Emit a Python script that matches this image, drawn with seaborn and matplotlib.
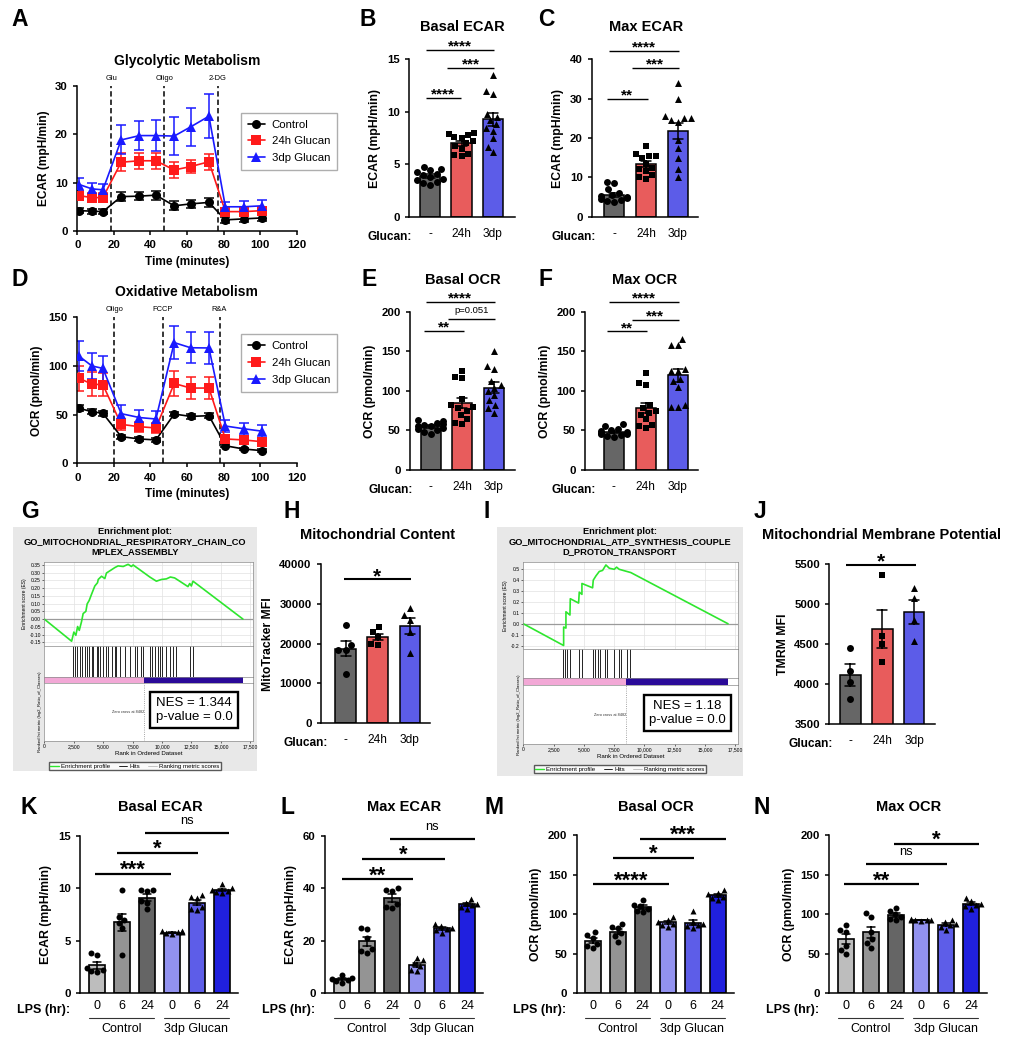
import numpy as np
import pandas as pd
import matplotlib
matplotlib.use("Agg")
import matplotlib.pyplot as plt
from matplotlib.lines import Line2D
import seaborn as sns

# ---------------- values ----------------
# A / D : seahorse time course (mean and SEM)
seahorse_time = [1, 8, 14, 24, 34, 43, 53, 62, 72, 81, 91, 101]
series_names = ['Control', '24h Glucan', '3dp Glucan']

ecar_control = [4.2, 4.1, 4.0, 7.1, 7.2, 7.4, 5.2, 5.6, 5.9, 2.3, 2.5, 2.7]
ecar_control_sem = [0.5, 0.5, 0.5, 0.9, 0.9, 0.9, 0.9, 0.9, 1.0, 0.6, 0.6, 0.6]
ecar_24h = [7.3, 6.9, 6.9, 14.2, 14.5, 14.5, 12.6, 13.3, 14.3, 4.0, 4.0, 4.2]
ecar_24h_sem = [1.0, 0.9, 0.9, 1.9, 1.6, 1.6, 1.6, 1.4, 1.7, 0.8, 0.8, 0.8]
ecar_3dp = [9.6, 8.7, 8.5, 18.8, 19.7, 19.7, 19.6, 21.5, 23.7, 5.0, 5.0, 5.2]
ecar_3dp_sem = [1.4, 1.2, 1.2, 3.0, 3.0, 3.2, 3.9, 3.9, 4.5, 1.0, 1.2, 1.2]
ecar_inject_time = [18.5, 47.5, 77]
ecar_inject_label = ['Glu', 'Oligo', '2-DG']

ocr_control = [56.5, 53, 51.3, 27.4, 25, 24, 50.6, 48.2, 48.9, 18, 14.7, 13]
ocr_control_sem = [3, 2.5, 2.5, 2, 2, 2, 2.5, 2.5, 2.5, 1.5, 1.5, 1.5]
ocr_24h = [87.3, 81.4, 80.7, 40, 37.6, 36.3, 82, 77.3, 77.3, 25, 24, 22.2]
ocr_24h_sem = [13, 12, 12, 6, 5, 5, 13, 11, 11, 3, 3, 3]
ocr_3dp = [110, 100, 97.5, 51, 47, 45.5, 124, 118.7, 118.5, 38.3, 35.5, 33]
ocr_3dp_sem = [15.5, 13, 13, 9, 8, 8, 17, 16, 16, 6, 6, 6]
ocr_inject_time = [20.2, 46.7, 77.8]
ocr_inject_label = ['Oligo', 'FCCP', 'R&A']

# B, C, E, F : per-well values (Control, 24h, 3dp)
glucan_groups = ['-', '24h', '3dp']
basal_ecar = [[4.8, 4.6, 4.5, 4.3, 4.1, 4.0, 3.8, 3.6, 3.5, 3.3, 3.2, 3.0],
              [8.0, 7.9, 7.8, 7.6, 7.5, 7.2, 7.0, 6.8, 6.5, 6.0, 5.9, 5.8],
              [13.5, 12.0, 11.7, 9.8, 9.5, 9.2, 8.8, 8.5, 8.2, 7.5, 6.7, 6.2]]
max_ecar = [[8.8, 8.5, 7.0, 6.0, 5.5, 5.2, 5.0, 4.8, 4.5, 4.2, 4.0, 3.8],
            [18.0, 16.0, 15.5, 15.5, 15.0, 13.5, 12.5, 12.0, 11.5, 10.5, 10.0, 9.5],
            [34.0, 30.0, 25.5, 25.0, 25.0, 24.5, 24.0, 19.5, 17.5, 15.0, 12.0, 10.0]]
basal_ocr = [[63, 62, 60, 58, 57, 56, 55, 53, 52, 50, 48, 46],
             [125, 118, 116, 90, 82, 80, 78, 75, 70, 65, 60, 58],
             [150, 132, 128, 112, 108, 104, 100, 95, 88, 82, 78, 72]]
max_ocr = [[58, 55, 52, 50, 49, 48, 47, 46, 45, 44, 43, 42],
           [122, 110, 107, 82, 78, 74, 72, 70, 64, 57, 55, 53],
           [165, 158, 158, 128, 125, 125, 115, 112, 105, 82, 80, 80]]

# H, J
mito_content = [[24700, 19700, 18500, 18500, 12300],
                [24100, 23000, 21700, 20000, 19600],
                [28900, 27200, 26000, 23000, 17600]]
tmrm_mfi = [[4450, 4170, 4020, 3810],
            [5370, 4600, 4500, 4280],
            [5200, 5080, 4800, 4540]]

# K-N : LPS time (0, 6, 24 h) for Control then 3dp Glucan
lps_groups = ['Control 0', 'Control 6', 'Control 24', 'Glucan 0', 'Glucan 6', 'Glucan 24']
lps_ticklabels = ['0', '6', '24', '0', '6', '24']
lps_basal_ecar = [[3.8, 3.6, 2.4, 2.2, 2.1, 2.0], [9.8, 7.3, 7.0, 6.7, 6.2, 3.6],
                  [9.8, 9.8, 9.7, 8.8, 8.6, 8.0], [5.9, 5.9, 5.8, 5.8, 5.7, 5.6],
                  [9.4, 9.2, 9.1, 8.2, 8.0, 7.9], [10.4, 10.0, 9.8, 9.7, 9.6, 9.5]]
lps_max_ecar = [[6.8, 6.0, 5.5, 5.0, 4.5, 4.0], [25.0, 24.5, 21.0, 17.0, 16.0, 15.5],
                [40.0, 39.5, 39.0, 34.0, 33.0, 32.5], [13.5, 12.5, 11.5, 10.5, 9.0, 8.5],
                [26.5, 25.5, 25.0, 24.5, 24.0, 23.0], [36.0, 34.5, 34.0, 33.5, 33.0, 32.0]]
lps_basal_ocr = [[77, 74, 70, 62, 60, 57], [88, 84, 83, 76, 72, 65],
                 [118, 112, 110, 107, 104, 103], [97, 93, 90, 88, 86, 84],
                 [104, 90, 88, 86, 85, 82], [130, 127, 125, 122, 121, 118]]
lps_max_ocr = [[86, 80, 78, 60, 55, 50], [101, 96, 77, 68, 63, 57],
               [108, 104, 100, 97, 94, 92], [94, 93, 93, 92, 92, 91],
               [93, 90, 87, 86, 84, 80], [121, 116, 113, 111, 110, 107]]

# G, I : GSEA running enrichment score and hit ranks
g_title = 'Enrichment plot:\nGO_MITOCHONDRIAL_RESPIRATORY_CHAIN_CO\nMPLEX_ASSEMBLY'
g_rank = [0, 2320, 2510, 2680, 2830, 2970, 3160, 3300, 3530, 3640, 3810, 4010, 4290,
          4520, 4580, 4860, 5140, 5280, 5710, 5990, 6270, 6700, 7120, 7400, 7540, 8110,
          8960, 9520, 9940, 10370, 10710, 11070, 11500, 12200, 12350, 12490, 12630, 16870]
g_es = [0.0, -0.143, -0.084, -0.105, -0.048, -0.073, -0.017, 0.036, 0.05, 0.098, 0.12,
        0.16, 0.214, 0.235, 0.256, 0.277, 0.262, 0.298, 0.319, 0.333, 0.344, 0.34, 0.354,
        0.34, 0.35, 0.319, 0.272, 0.245, 0.256, 0.26, 0.272, 0.266, 0.245, 0.21, 0.23,
        0.214, 0.245, 0.0]
g_hits = [2400, 2600, 2800, 3020, 3220, 3450, 3640, 3810, 4010, 4150, 4435, 4575, 4720,
          5000, 5225, 5425, 5710, 5990, 6130, 6470, 6840, 7260, 7685, 7880, 8250, 8390,
          9010, 9180, 9380, 9660, 9800, 10030, 10370, 10650, 10930, 11215, 12345, 12630]
g_nes = 'NES = 1.344\np-value = 0.0'

i_title = 'Enrichment plot:\nGO_MITOCHONDRIAL_ATP_SYNTHESIS_COUPLE\nD_PROTON_TRANSPORT'
i_rank = [0, 3330, 3330, 3520, 3520, 3850, 3880, 4565, 4620, 4840, 4840, 5720, 5775,
          6000, 6270, 6545, 6820, 7100, 7510, 7700, 7920, 8880, 16900]
i_es = [0.0, -0.20, -0.03, -0.04, 0.11, 0.08, 0.23, 0.19, 0.29, 0.27, 0.37, 0.33, 0.40,
        0.44, 0.48, 0.49, 0.54, 0.51, 0.50, 0.52, 0.50, 0.47, 0.0]
i_hits = [3250, 3440, 3600, 3880, 4620, 4810, 5720, 5910, 6130, 6350, 6740, 6880, 7510,
          7870, 8090, 8550, 8830]
i_nes = 'NES = 1.18\np-value = 0.0'
zero_cross = 8482
ranked_list_end = 16900

# ---------------- style ----------------
sns.set_style('ticks')
plt.rcParams['font.family'] = ['Liberation Sans', 'DejaVu Sans']
plt.rcParams.update({
    'axes.edgecolor': 'black', 'axes.labelcolor': 'black', 'text.color': 'black',
    'xtick.color': 'black', 'ytick.color': 'black', 'axes.linewidth': 1.1,
    'xtick.major.width': 1.1, 'ytick.major.width': 1.1,
    'xtick.major.size': 3.2, 'ytick.major.size': 3.2,
})

series_colors = ['black', '#ff1a1a', '#1a1aff']
series_markers = ['o', 's', '^']
glucan_colors = ['#666666', '#ff4545', '#4545ff']
glucan_markers = ['o', 's', '^']
lps_colors = ['#bdbdbd', '#949494', '#656565', '#8282ff', '#4646ff', '#0000ff']
lps_markers = ['o', 'o', 'o', '^', '^', '^']
gsea_green = '#2ee62e'

W, H = 1014, 1050
fig = plt.figure(figsize=(W / 100, H / 100), dpi=100)


def px_ax(x0, y0, x1, y1):
    return fig.add_axes([x0 / W, 1 - y1 / H, (x1 - x0) / W, (y1 - y0) / H])


def fig_text(x, y, s, **kw):
    fig.text(x / W, 1 - y / H, s, **kw)


def bold_yticks(ax, size=8.2):
    ax.tick_params(axis='y', labelsize=size)
    plt.setp(ax.get_yticklabels(), fontweight='bold')


def seahorse_panel(box, means, sems, inj_t, inj_lab, ylim, yticks, ylabel, legend_top):
    ax = px_ax(*box)
    df = pd.DataFrame({'time': seahorse_time * 3, 'val': sum(means, []),
                       'grp': np.repeat(series_names, len(seahorse_time))})
    sns.lineplot(data=df, x='time', y='val', hue='grp', style='grp',
                 hue_order=series_names, style_order=series_names,
                 palette=dict(zip(series_names, series_colors)),
                 markers=dict(zip(series_names, series_markers)), dashes=False,
                 markersize=6.5, markeredgewidth=0, linewidth=1.2, errorbar=None,
                 legend=False, ax=ax, zorder=3)
    for m, s, c in zip(means, sems, series_colors):
        ax.errorbar(seahorse_time, m, yerr=s, fmt='none', ecolor=c, elinewidth=1.1,
                    capsize=3.6, capthick=1.1, zorder=2)
    for t, lab in zip(inj_t, inj_lab):
        ax.axvline(t, color='black', ls=(0, (3.5, 2)), lw=1.1, zorder=1)
        ax.annotate(lab, xy=(t, 1), xycoords=('data', 'axes fraction'), xytext=(0, 3),
                    textcoords='offset points', ha='center', va='bottom', fontsize=5.4)
    ax.set_xlim(0, 120)
    ax.set_xticks(range(0, 121, 20))
    ax.set_ylim(ylim)
    ax.set_yticks(yticks)
    ax.tick_params(axis='x', labelsize=8.2)
    plt.setp(ax.get_xticklabels(), fontweight='bold')
    bold_yticks(ax)
    ax.set_xlabel('Time (minutes)', fontsize=8.6, fontweight='bold')
    ax.set_ylabel(ylabel, fontsize=8.6, fontweight='bold')
    sns.despine(ax=ax)
    handles = [Line2D([0], [0], color=c, marker=mk, markersize=6.5, lw=1.2, mew=0)
               for c, mk in zip(series_colors, series_markers)]
    ax.legend(handles, series_names, loc='upper left',
              bbox_to_anchor=(241 / W, 1 - legend_top / H), bbox_transform=fig.transFigure,
              borderaxespad=0, fancybox=False, edgecolor='#9a9a9a', fontsize=8.2,
              handlelength=1.5, handletextpad=0.6, borderpad=0.6, labelspacing=0.6)
    return ax


def bar_panel(box, groups, colors, markers, values, xlim, ylim, yticks, ylabel,
              ticklabels, tick_fs, tick_pad, dot_size, bar_lw, xlabel_name, xlabel_dx):
    ax = px_ax(*box)
    df = pd.DataFrame({'grp': np.repeat(groups, [len(v) for v in values]),
                       'val': np.concatenate(values)})
    sns.barplot(data=df, x='grp', y='val', hue='grp', order=groups, hue_order=groups,
                palette=dict(zip(groups, colors)), errorbar='se', capsize=0.32,
                width=0.64, edgecolor='black', linewidth=bar_lw,
                err_kws={'color': 'black', 'linewidth': 1.1}, legend=False, ax=ax)
    for g, mk in zip(groups, markers):
        sns.swarmplot(data=df[df['grp'] == g], x='grp', y='val', order=groups, marker=mk,
                      color='black', size=dot_size, linewidth=0, warn_thresh=1,
                      zorder=3, ax=ax)
    ax.set_xlim(xlim)
    ax.set_ylim(ylim)
    ax.set_yticks(yticks)
    ax.set_xticks(range(len(groups)), ticklabels, fontweight='normal')
    ax.tick_params(axis='x', length=0, pad=tick_pad, labelsize=tick_fs)
    bold_yticks(ax)
    ax.set_xlabel('')
    ax.set_ylabel(ylabel, fontsize=8.8, fontweight='bold')
    sns.despine(ax=ax)
    # row label written left of the first bar, level with the tick labels
    ax.annotate(xlabel_name, xy=(-0.32, 0), xycoords=('data', 'axes fraction'),
                xytext=(xlabel_dx, -(tick_pad + tick_fs * 0.75)), textcoords='offset points',
                ha='right', va='center', fontsize=tick_fs, fontweight='bold',
                annotation_clip=False)
    return ax


def add_sigs(ax, sigs, star_fs, lw, star_dy, text_fs, text_dy):
    for x0, x1, y, label in sigs:
        ax.plot([x0, x1], [y, y], color='black', lw=lw, clip_on=False,
                solid_capstyle='butt')
        if '*' in label:
            ax.annotate(label, xy=((x0 + x1) / 2, y), xytext=(0, star_dy),
                        textcoords='offset points', ha='center', va='baseline',
                        fontsize=star_fs, fontweight='bold', annotation_clip=False)
        else:
            ax.annotate(label, xy=((x0 + x1) / 2, y), xytext=(0, text_dy),
                        textcoords='offset points', ha='center', va='baseline',
                        fontsize=text_fs, annotation_clip=False)


def lps_groups_row(ax):
    h_px = ax.get_position().height * H
    for lo, hi, name in [(-0.32, 2.28, 'Control'), (2.68, 5.28, '3dp Glucan')]:
        ax.plot([lo, hi], [-25 / h_px] * 2, color='#333333', lw=0.8, clip_on=False,
                transform=ax.get_xaxis_transform())
        ax.text((lo + hi) / 2, -36 / h_px, name, ha='center', va='center', fontsize=9,
                transform=ax.get_xaxis_transform())


def gsea_panel(bg, ax_x, ax_y, title, ranks, es, hits, es_ticks, es_fmt, es_ylim,
               nes, nes_xy, legend_y):
    x0, y0, x1, y1 = bg
    back = px_ax(x0, y0, x1, y1)
    back.set_facecolor('#e8e8e8')
    back.set_xticks([])
    back.set_yticks([])
    for s in back.spines.values():
        s.set_visible(False)
    fig_text((x0 + x1) / 2, y0 + 0.5, title, ha='center', va='top', fontsize=6.7,
             fontweight='bold', linespacing=1.12)
    left, right = ax_x
    t_es, b_es, b_hits, b_bar, b_low = ax_y
    xmax = 17750
    xt = list(range(0, 17501, 2500))

    es_ax = px_ax(left, t_es, right, b_es)
    es_ax.grid(True, color='#e2e2e2', lw=0.5)
    es_ax.axhline(0, color='#9a9a9a', lw=0.9)
    sns.lineplot(x=ranks, y=es, sort=False, estimator=None, color=gsea_green,
                 linewidth=1.2, ax=es_ax)
    es_ax.set_xlim(0, xmax)
    es_ax.set_ylim(es_ylim)
    es_ax.set_xticks(xt, [''] * len(xt))
    es_ax.set_yticks(es_ticks, [es_fmt % t for t in es_ticks])
    es_ax.tick_params(axis='x', length=0)
    es_ax.tick_params(axis='y', length=1.5, width=0.4, pad=1, labelsize=3.6)
    es_ax.set_ylabel('Enrichment score (ES)', fontsize=3.6, labelpad=2)

    hits_ax = px_ax(left, b_es, right, b_hits)
    sns.rugplot(x=hits, height=1, color='black', linewidth=0.6, expand_margins=False,
                ax=hits_ax)
    hits_ax.set_xlim(0, xmax)
    hits_ax.set_xticks([])
    hits_ax.set_yticks([])

    bar_ax = px_ax(left, b_hits, right, b_bar)
    bar_ax.axvspan(0, zero_cross, color='#f2a8d6', lw=0)
    bar_ax.axvspan(zero_cross, ranked_list_end, color='#2a0a98', lw=0)
    bar_ax.set_xlim(0, xmax)
    bar_ax.set_xticks([])
    bar_ax.set_yticks([])

    low_ax = px_ax(left, b_bar, right, b_low)
    low_ax.axvline(zero_cross, color='#888888', ls=':', lw=0.6)
    low_ax.text(zero_cross, 0.5, 'Zero cross at 8482', fontsize=2.8, ha='right',
                va='center', color='#333333', transform=low_ax.get_xaxis_transform())
    low_ax.set_xlim(0, xmax)
    low_ax.set_xticks(xt, [f'{t:,}' for t in xt])
    low_ax.set_yticks([])
    low_ax.tick_params(axis='x', length=1.5, width=0.4, pad=1, labelsize=3.6)
    low_ax.set_xlabel('Rank in Ordered Dataset', fontsize=4.4, labelpad=1)
    low_ax.set_ylabel('Ranked list metric (log2_Ratio_of_Classes)', fontsize=3.1,
                      labelpad=2)

    for a in (es_ax, hits_ax, bar_ax, low_ax):
        for s in a.spines.values():
            s.set_linewidth(0.5)
            s.set_color('#8a8a8a')

    fig_text(nes_xy[0], nes_xy[1], nes, ha='center', va='center', fontsize=9.5,
             linespacing=1.25,
             bbox=dict(boxstyle='square,pad=0.4', fc='white', ec='black', lw=1.7))
    handles = [Line2D([], [], color=gsea_green, lw=1), Line2D([], [], color='black', lw=0.6),
               Line2D([], [], color='#bbbbbb', lw=0.6)]
    fig.legend(handles, ['Enrichment profile', 'Hits', 'Ranking metric scores'],
               loc='center', bbox_to_anchor=((x0 + x1) / 2 / W, 1 - legend_y / H),
               ncol=3, fontsize=4.4, frameon=True, fancybox=False, edgecolor='#333333',
               handlelength=1.4, handletextpad=0.4, columnspacing=1.3, borderpad=0.3)


# ---------------- panels ----------------
seahorse_panel((77.3, 85.7, 296.7, 231), [ecar_control, ecar_24h, ecar_3dp],
               [ecar_control_sem, ecar_24h_sem, ecar_3dp_sem],
               ecar_inject_time, ecar_inject_label, (0, 30), [0, 10, 20, 30],
               'ECAR (mpH/min)', 112.7)
seahorse_panel((77.3, 317.3, 296.7, 463.3), [ocr_control, ocr_24h, ocr_3dp],
               [ocr_control_sem, ocr_24h_sem, ocr_3dp_sem],
               ocr_inject_time, ocr_inject_label, (0, 150), [0, 50, 100, 150],
               'OCR (pmol/min)', 334.3)
fig_text(186.7, 61, 'Glycolytic Metabolism', ha='center', va='center', fontsize=10,
         fontweight='bold')
fig_text(186.7, 292.3, 'Oxidative Metabolism', ha='center', va='center', fontsize=10,
         fontweight='bold')

glucan_kw = dict(groups=glucan_groups, colors=glucan_colors, markers=glucan_markers,
                 ticklabels=glucan_groups, tick_fs=8.6, tick_pad=8.2, dot_size=5,
                 bar_lw=1.1, xlabel_name='Glucan:', xlabel_dx=-5.5)
ax_b = bar_panel((409, 59.3, 515, 217), values=basal_ecar, xlim=(-0.67, 2.7), ylim=(0, 15),
                 yticks=[0, 5, 10, 15], ylabel='ECAR (mpH/min)', **glucan_kw)
ax_c = bar_panel((592, 59.3, 698, 216.7), values=max_ecar, xlim=(-0.69, 2.63),
                 ylim=(0, 40), yticks=[0, 10, 20, 30, 40], ylabel='ECAR (mpH/min)',
                 **glucan_kw)
ax_e = bar_panel((410, 311.7, 515, 470), values=basal_ocr, xlim=(-0.66, 2.68),
                 ylim=(0, 200), yticks=[0, 50, 100, 150, 200], ylabel='OCR (pmol/min)',
                 **glucan_kw)
ax_f = bar_panel((585, 311.7, 698, 470), values=max_ocr, xlim=(-0.9, 2.63),
                 ylim=(0, 200), yticks=[0, 50, 100, 150, 200], ylabel='OCR (pmol/min)',
                 **glucan_kw)
ax_h = bar_panel((321, 564.3, 430, 723), values=mito_content, xlim=(-0.77, 2.63),
                 ylim=(0, 40000), yticks=[0, 10000, 20000, 30000, 40000],
                 ylabel='MitoTracker MFI', **glucan_kw)
ax_j = bar_panel((829.3, 564.3, 935, 724), values=tmrm_mfi, xlim=(-0.66, 2.65),
                 ylim=(3500, 5500), yticks=[3500, 4000, 4500, 5000, 5500],
                 ylabel='TMRM MFI', **glucan_kw)

add_sigs(ax_b, [(-0.14, 2.04, 15.9, '****'), (0.54, 2.04, 14.2, '***'),
                (-0.14, 0.98, 11.3, '****')], 11, 1.0, -0.5, 7, 4.5)
add_sigs(ax_c, [(-0.16, 2.03, 42.2, '****'), (0.56, 2.03, 37.8, '***'),
                (-0.22, 1.05, 29.9, '**')], 11, 1.0, -0.5, 7, 4.5)
add_sigs(ax_e, [(-0.16, 2.04, 212, '****'), (0.55, 2.04, 191, 'p=0.051'),
                (-0.21, 1.07, 176, '**')], 11, 1.0, -0.5, 6.8, 4.2)
add_sigs(ax_f, [(-0.16, 2.03, 212, '****'), (0.56, 2.03, 190, '***'),
                (-0.22, 1.05, 175, '**')], 11, 1.0, -0.5, 7, 4.5)
add_sigs(ax_h, [(-0.05, 2.03, 36200, '*')], 15, 1.5, -2, 9, 5)
add_sigs(ax_j, [(-0.14, 2.05, 5490, '*')], 15, 1.5, -2, 9, 5)

fig_text(462, 27, 'Basal ECAR', ha='center', va='center', fontsize=10.5, fontweight='bold')
fig_text(646, 27, 'Max ECAR', ha='center', va='center', fontsize=10.5, fontweight='bold')
fig_text(463, 280, 'Basal OCR', ha='center', va='center', fontsize=10.5, fontweight='bold')
fig_text(645, 280, 'Max OCR', ha='center', va='center', fontsize=10.5, fontweight='bold')
fig_text(378, 535, 'Mitochondrial Content', ha='center', va='center', fontsize=10.5,
         fontweight='bold')
fig_text(881.7, 535, 'Mitochondrial Membrane Potential', ha='center', va='center',
         fontsize=10.5, fontweight='bold')

gsea_panel((13, 527, 257, 771), (44.3, 253.3), (561.7, 645.7, 676.5, 683, 741),
           g_title, g_rank, g_es, g_hits,
           [-0.15, -0.10, -0.05, 0.0, 0.05, 0.10, 0.15, 0.20, 0.25, 0.30, 0.35], '%.2f',
           (-0.172, 0.371), g_nes, (194, 710), 766)
gsea_panel((497, 527, 743, 776), (523.3, 738.3), (561.7, 649, 678.3, 685, 744),
           i_title, i_rank, i_es, i_hits,
           [-0.2, -0.1, 0.0, 0.1, 0.2, 0.3, 0.4, 0.5], '%.1f',
           (-0.232, 0.57), i_nes, (687.5, 713), 769)

lps_kw = dict(groups=lps_groups, colors=lps_colors, markers=lps_markers,
              ticklabels=lps_ticklabels, tick_fs=9, tick_pad=5, dot_size=4.3,
              bar_lw=1.2, xlabel_name='LPS (hr):', xlabel_dx=-13.5)
ax_k = bar_panel((80, 835.7, 238, 993.3), values=lps_basal_ecar, xlim=(-0.68, 5.64),
                 ylim=(0, 15), yticks=[0, 5, 10, 15], ylabel='ECAR (mpH/min)', **lps_kw)
ax_l = bar_panel((325, 835.7, 483, 993.3), values=lps_max_ecar, xlim=(-0.68, 5.64),
                 ylim=(0, 60), yticks=[0, 20, 40, 60], ylabel='ECAR (mpH/min)', **lps_kw)
ax_m = bar_panel((576.7, 835, 734.3, 993.3), values=lps_basal_ocr, xlim=(-0.64, 5.66),
                 ylim=(0, 200), yticks=[0, 50, 100, 150, 200], ylabel='OCR (pmol/min)',
                 **lps_kw)
ax_n = bar_panel((829.3, 835, 987.3, 993.3), values=lps_max_ocr, xlim=(-0.67, 5.65),
                 ylim=(0, 200), yticks=[0, 50, 100, 150, 200], ylabel='OCR (pmol/min)',
                 **lps_kw)
for a in (ax_k, ax_l, ax_m, ax_n):
    lps_groups_row(a)

add_sigs(ax_k, [(-0.08, 2.95, 11.4, '***'), (0.79, 4.05, 13.4, '*'),
                (1.9, 5.3, 15.3, 'ns')], 16, 1.6, -1.4, 9.3, 6.5)
add_sigs(ax_l, [(0.0, 2.85, 43.4, '**'), (0.81, 4.12, 51.2, '*'),
                (1.9, 5.3, 58.7, 'ns')], 16, 1.6, -1.4, 9.3, 6.5)
add_sigs(ax_m, [(0.0, 3.06, 137.5, '****'), (0.8, 4.05, 171, '*'),
                (1.9, 5.33, 195.5, '***')], 16, 1.6, -1.4, 9.3, 6.5)
add_sigs(ax_n, [(-0.1, 2.93, 137.5, '**'), (0.8, 4.03, 163, 'ns'),
                (1.9, 5.32, 188.4, '*')], 16, 1.6, -1.4, 9.3, 6.5)

fig_text(160, 807, 'Basal ECAR', ha='center', va='center', fontsize=10.5, fontweight='bold')
fig_text(404, 807, 'Max ECAR', ha='center', va='center', fontsize=10.5, fontweight='bold')
fig_text(655.7, 807, 'Basal OCR', ha='center', va='center', fontsize=10.5,
         fontweight='bold')
fig_text(908.3, 807, 'Max OCR', ha='center', va='center', fontsize=10.5, fontweight='bold')

# panel letters
for letter, x, y in [('A', 20, 20), ('B', 368, 20), ('C', 546, 20), ('D', 20, 280),
                     ('E', 369, 280), ('F', 545, 280), ('G', 29.5, 512), ('H', 291.5, 512),
                     ('I', 487, 512), ('J', 760, 512), ('K', 29, 807), ('L', 288, 807),
                     ('M', 494, 807), ('N', 762, 807)]:
    fig_text(x, y, letter, ha='center', va='center', fontsize=16.5, fontweight='bold')

fig.savefig('out.png', dpi=100)
